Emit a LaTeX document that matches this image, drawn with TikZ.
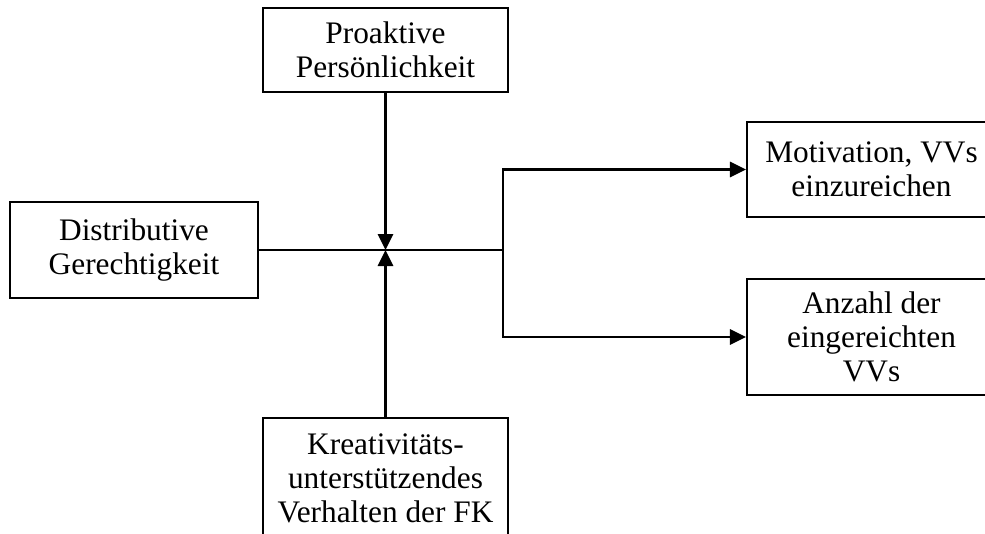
\documentclass[tikz,border=0pt]{standalone}
\usepackage{fontspec}
\setmainfont{Liberation Serif}
\usetikzlibrary{arrows.meta}
\begin{document}
\begin{tikzpicture}[x=0.75pt,y=-0.75pt,
  box/.style={draw,line width=1.6pt,inner sep=0pt,align=center,
    font=\fontsize{23.5}{25.5}\selectfont},
  link/.style={line width=1.6pt},
  arrowlink/.style={link,-{Triangle[length=12pt,width=11.5pt]}}]
\useasboundingbox (0,0) rectangle (985,533);
\clip (0,0) rectangle (985,533);
% constructs
\node[box,minimum width=183.75pt,minimum height=63pt] (pro) at (385.5,50)
  {Proaktive\\Persönlichkeit};
\node[box,minimum width=186pt,minimum height=72pt] (dist) at (134,250)
  {Distributive\\Gerechtigkeit};
\node[box,minimum width=186.75pt,minimum height=71.25pt] (mot) at (871.5,169.5)
  {Motivation, VVs\\einzureichen};
\node[box,minimum width=186.75pt,minimum height=87pt] (anz) at (871.5,337)
  {Anzahl der\\eingereichten\\VVs};
\node[box,minimum width=183.75pt,minimum height=90pt] (kreat) at (385.5,478)
  {Kreativitäts-\\unterstützendes\\Verhalten der FK};
% junctions
\coordinate (hub) at (pro.south |- dist.east);
\coordinate (split) at (503,250);
% paths
\draw[link] (dist.east) -- (split);
\draw[arrowlink] (split) |- (mot.west);
\draw[arrowlink] (split) |- (anz.west);
\draw[arrowlink] (pro.south) -- (hub);
\draw[arrowlink] (kreat.north) -- (hub);
\end{tikzpicture}
\end{document}
